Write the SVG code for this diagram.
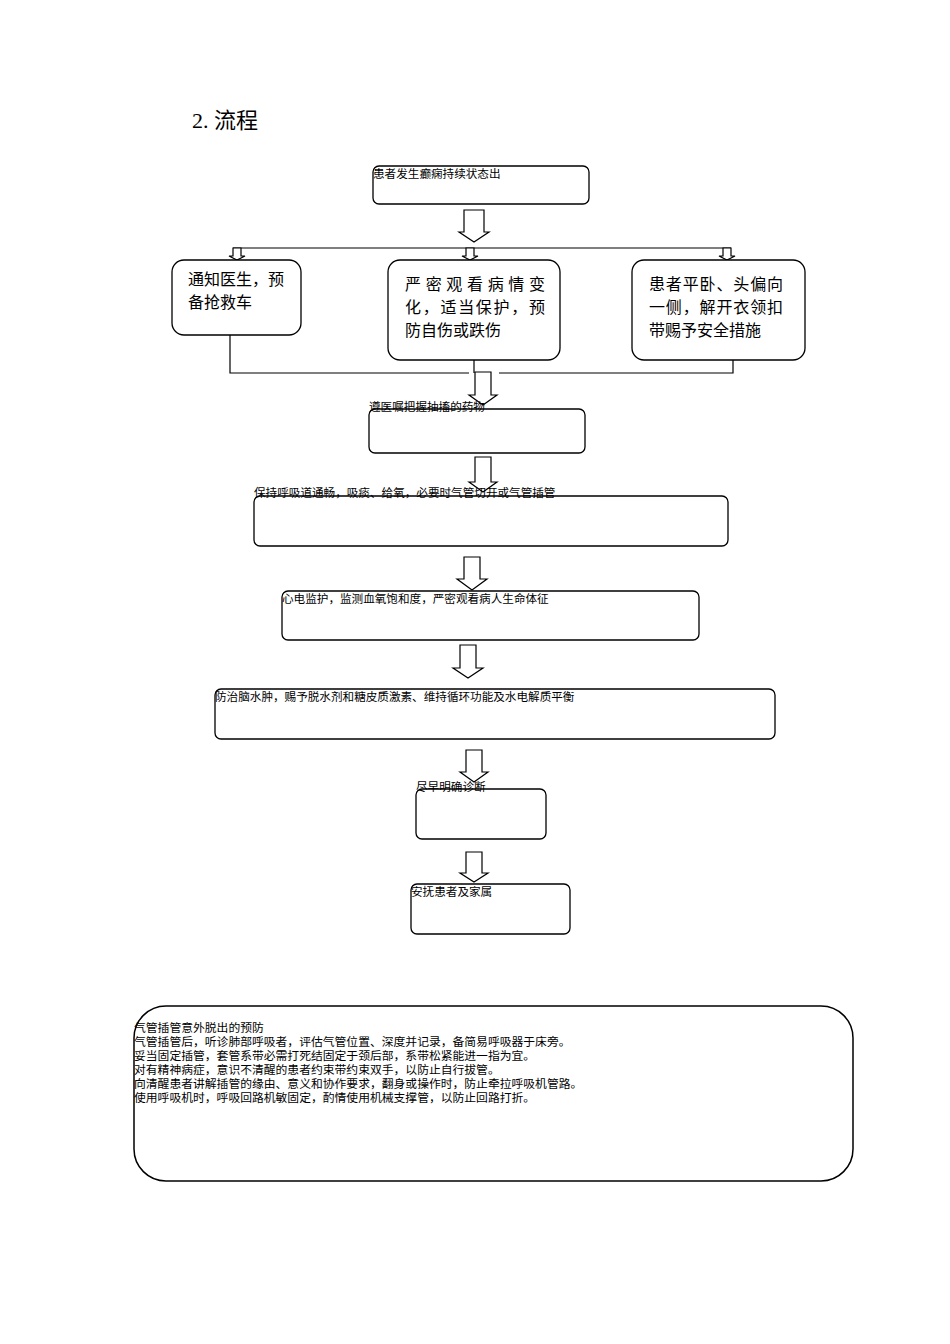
<svg xmlns="http://www.w3.org/2000/svg" width="950" height="1344" viewBox="0 0 950 1344">
<style>
.box{fill:#fff;stroke:#000;stroke-width:1.3}
.arr{fill:#fff;stroke:#000;stroke-width:1.2;stroke-linejoin:miter}
.ln{fill:none;stroke:#000;stroke-width:1.2}
.s{font-family:"Noto Sans CJK SC","Liberation Sans",sans-serif;font-size:11.6px;fill:#000}
.m{font-family:"Noto Sans CJK SC","Liberation Serif",serif;font-size:16px;fill:#000}
.t{font-family:"Liberation Serif","Noto Sans CJK SC",serif;font-size:22px;fill:#000}
.n{font-family:"Noto Sans CJK SC","Liberation Sans",sans-serif;font-size:11.8px;fill:#000}
</style>
<rect width="950" height="1344" fill="#fff"/>
<text class="t" x="192" y="128">2. 流程</text>

<g id="connectors">
<path class="ln" d="M233,248 H731"/>
<path class="ln" d="M230,335 V373 H469 M499,373 H733 V360 M474,360 V373"/>
<path class="arr" d="M464,210 H484 V232 H489 L474,242 L459,232 H464 Z"/>
<path class="arr" d="M233,248 H241 V256 H245 L237,260 L229,256 H233 Z"/>
<path class="arr" d="M466,248 H474 V256 H478 L470,260 L462,256 H466 Z"/>
<path class="arr" d="M723,248 H731 V256 H735 L727,260 L719,256 H723 Z"/>
<path class="arr" d="M475,372 H491 V395 H497 L483,405 L469,395 H475 Z"/>
<path class="arr" d="M475,457 H491 V482 H497 L483,492 L469,482 H475 Z"/>
<path class="arr" d="M464,557 H480 V579 H487 L472,590 L457,579 H464 Z"/>
<path class="arr" d="M460,645 H476 V668 H483 L468,678 L453,668 H460 Z"/>
<path class="arr" d="M466,750 H482 V772 H488 L474,782 L460,772 H466 Z"/>
<path class="arr" d="M466,852 H482 V873 H488 L474,882 L460,873 H466 Z"/>
</g>

<g id="n1"><rect class="box" x="373" y="166" width="216" height="38" rx="6"/>
<text class="s" x="373" y="178">患者发生癫痫持续状态出</text></g>

<g id="n2"><rect class="box" x="172" y="260" width="129" height="75" rx="12"/>
<text class="m" x="188" y="285">通知医生，预</text>
<text class="m" x="188" y="308">备抢救车</text></g>

<g id="n3"><rect class="box" x="388" y="260" width="172" height="100" rx="12"/>
<text class="m" x="405" y="290" textLength="140" lengthAdjust="spacing">严密观看病情变</text>
<text class="m" x="405" y="313" textLength="140" lengthAdjust="spacing">化，适当保护，预</text>
<text class="m" x="405" y="336">防自伤或跌伤</text></g>

<g id="n4"><rect class="box" x="632" y="260" width="173" height="100" rx="12"/>
<text class="m" x="649" y="290" textLength="134" lengthAdjust="spacing">患者平卧、头偏向</text>
<text class="m" x="649" y="313" textLength="134" lengthAdjust="spacing">一侧，解开衣领扣</text>
<text class="m" x="649" y="336">带赐予安全措施</text></g>

<g id="n5"><rect class="box" x="369" y="409" width="216" height="44" rx="6"/>
<text class="s" x="369" y="411">遵医嘱把握抽搐的药物</text></g>

<g id="n6"><rect class="box" x="254" y="496" width="474" height="50" rx="6"/>
<text class="s" x="254" y="497">保持呼吸道通畅，吸痰、给氧，必要时气管切开或气管插管</text></g>

<g id="n7"><rect class="box" x="282" y="591" width="417" height="49" rx="6"/>
<text class="s" x="282" y="603">心电监护，监测血氧饱和度，严密观看病人生命体征</text></g>

<g id="n8"><rect class="box" x="215" y="689" width="560" height="50" rx="6"/>
<text class="s" x="215" y="701">防治脑水肿，赐予脱水剂和糖皮质激素、维持循环功能及水电解质平衡</text></g>

<g id="n9"><rect class="box" x="416" y="789" width="130" height="50" rx="6"/>
<text class="s" x="416" y="791">尽早明确诊断</text></g>

<g id="n10"><rect class="box" x="411" y="884" width="159" height="50" rx="6"/>
<text class="s" x="411" y="896">安抚患者及家属</text></g>

<g id="n11"><rect class="box" x="134" y="1006" width="719" height="175" rx="32" style="stroke-width:1.5"/>
<text class="n" x="134" y="1032">气管插管意外脱出的预防</text>
<text class="n" x="134" y="1046">气管插管后，听诊肺部呼吸者，评估气管位置、深度并记录，备简易呼吸器于床旁。</text>
<text class="n" x="134" y="1060">妥当固定插管，套管系带必需打死结固定于颈后部，系带松紧能进一指为宜。</text>
<text class="n" x="134" y="1074">对有精神病症，意识不清醒的患者约束带约束双手，以防止自行拔管。</text>
<text class="n" x="134" y="1088">向清醒患者讲解插管的缘由、意义和协作要求，翻身或操作时，防止牵拉呼吸机管路。</text>
<text class="n" x="134" y="1102">使用呼吸机时，呼吸回路机敏固定，酌情使用机械支撑管，以防止回路打折。</text></g>
</svg>
